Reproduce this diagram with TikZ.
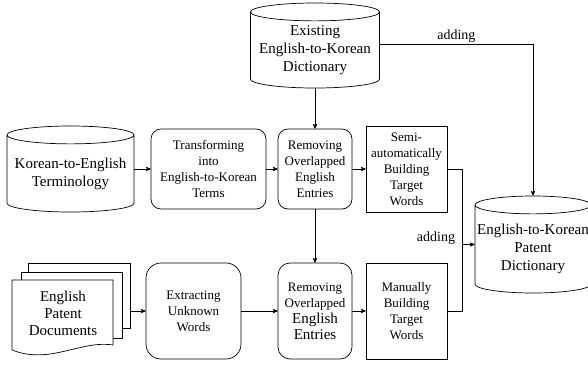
\documentclass[tikz,border=0pt]{standalone}
\usepackage{fontspec}
\setmainfont{Liberation Serif}
\usepackage{tikz}
\usetikzlibrary{arrows,shapes.geometric}

\newcommand{\bigtxt}{\fontsize{15}{17}\selectfont}

\begin{document}
\begin{tikzpicture}[x=1pt, y=-1pt, line width=0.7pt, >=stealth',
  conn/.style={->, >=stealth'},
  db/.style={cylinder, shape border rotate=90, aspect=0.16, anchor=shape center, draw, align=center, inner sep=0pt, font=\fontsize{15}{18}\selectfont},
  procbox/.style={rectangle, rounded corners=10pt, draw, align=center, inner sep=0pt, font=\fontsize{13}{16}\selectfont},
  buildbox/.style={rectangle, draw, align=center, inner sep=0pt, font=\fontsize{13}{16}\selectfont}]

\useasboundingbox (0,0) rectangle (588,365);

% Draw the dictionaries
\node[db, minimum width=129pt, minimum height=85pt] (existing) at (315,45.5) {Existing\\English-to-Korean\\Dictionary};
\node[db, minimum width=127pt, minimum height=86pt] (kterm) at (70.5,169) {Korean-to-English\\Terminology};
\node[db, minimum width=116pt, minimum height=97pt] (patent) at (533,244.5) {English-to-Korean\\Patent\\Dictionary};

% Upper row of steps
\node[procbox, minimum width=115pt, minimum height=80pt] (transform) at (208.5,169) {Transforming\\into\\English-to-Korean\\Terms};
\node[procbox, minimum width=74pt, minimum height=80pt] (remove1) at (315,169) {Removing\\Overlapped\\English\\Entries};
\node[buildbox, minimum width=81pt, minimum height=86pt] (semi) at (406.5,169) {Semi-\\automatically\\Building\\Target\\Words};

% Draw the stacked documents
\fill[white, draw=black] (28,263) rectangle (130,328);
\fill[white, draw=black] (21,272) rectangle (122,338);
\fill[white, draw=black] (12,280) -- (113,280) -- (113,345) .. controls (80,340) and (50,365) .. (12,350) -- cycle;
\node[align=center, font=\bigtxt] (docs) at (63,313) {English\\Patent\\Documents};
\coordinate (docsout) at (130,311);

% Lower row of steps
\node[procbox, rounded corners=15pt, minimum width=95pt, minimum height=96pt] (extract) at (193.5,311) {Extracting\\Unknown\\Words};
\node[procbox, rounded corners=12pt, minimum width=74pt, minimum height=96pt] (remove2) at (315,311) {Removing\\Overlapped\\{\bigtxt English}\\{\bigtxt Entries}};
\node[buildbox, minimum width=81pt, minimum height=96pt] (manual) at (406.5,311) {Manually\\Building\\Target\\Words};

% Connect the steps
\draw[conn] (kterm.east |- transform.west) -- (transform.west);
\draw[conn] (transform.east) -- (remove1.west);
\draw[conn] (remove1.east) -- (semi.west);
\draw[conn] (docsout) -- (extract.west);
\draw[conn] (extract.east) -- (remove2.west);
\draw[conn] (remove2.east) -- (manual.west);
\draw[conn] (existing.south) -- (remove1.north);
\draw[conn] (remove1.south) -- (remove2.north);

% Adding into the patent dictionary
\draw[conn] (existing.east |- 0,44) -| (patent.north) node[pos=0.25, above, inner sep=1pt, font=\fontsize{14}{16}\selectfont] (add1) {adding};
\coordinate (join) at (462,244.5);
\draw (semi.east) -| (join);
\draw (manual.east) -| (join);
\draw[conn] (join) -- (patent.west |- join);
\node[font=\fontsize{14}{16}\selectfont] (add2) at (436,238) {adding};

\end{tikzpicture}
\end{document}
